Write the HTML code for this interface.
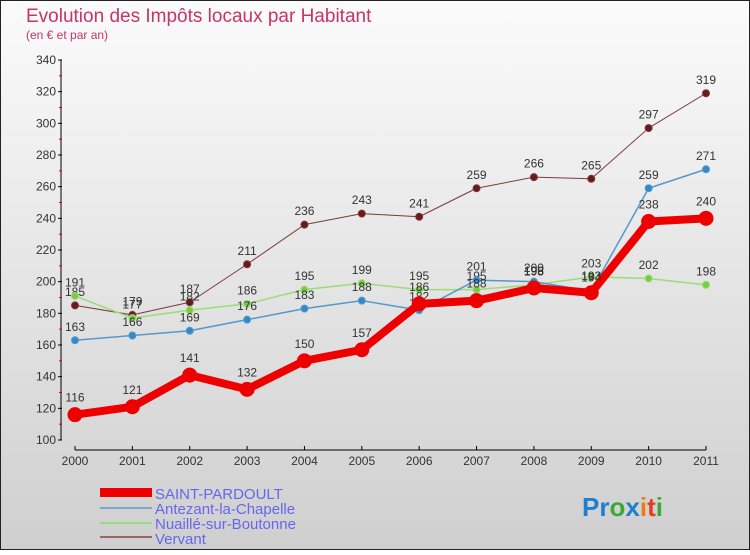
<!DOCTYPE html>
<html><head><meta charset="utf-8"><style>
html,body{margin:0;padding:0}
body{width:750px;height:550px;overflow:hidden;font-family:"Liberation Sans",sans-serif}
svg text{font-family:"Liberation Sans",sans-serif}
</style></head><body>
<svg id="c" width="750" height="550" xmlns="http://www.w3.org/2000/svg">
<defs><linearGradient id="bg" x1="0" y1="0" x2="0" y2="1"><stop offset="0" stop-color="#fbfbfb"/><stop offset="1" stop-color="#cfcfcf"/></linearGradient></defs>
<rect x="0.5" y="0.5" width="749" height="549" fill="url(#bg)" stroke="#222"/>
<text x="26" y="22" font-size="19" fill="#c8336a">Evolution des Impôts locaux par Habitant</text>
<text x="26" y="39" font-size="12" fill="#c8336a">(en € et par an)</text>
<g id="axes"></g><g id="series"></g>
<g>
<rect x="100" y="488" width="52" height="9" fill="#e00"/>
<text x="155" y="499" font-size="15" fill="#6666ee">SAINT-PARDOULT</text>
<line x1="100" y1="508" x2="152" y2="508" stroke="#7aa8d0" stroke-width="2"/>
<text x="155" y="514" font-size="15" fill="#6666ee">Antezant-la-Chapelle</text>
<line x1="100" y1="523" x2="152" y2="523" stroke="#99dd77" stroke-width="2"/>
<text x="155" y="529" font-size="15" fill="#6666ee">Nuaillé-sur-Boutonne</text>
<line x1="100" y1="537" x2="152" y2="537" stroke="#996666" stroke-width="2"/>
<text x="155" y="544" font-size="15" fill="#6666ee">Vervant</text>
</g>
<text x="582" y="516" font-size="26" font-weight="bold"><tspan fill="#1e7fd0">Pr</tspan><tspan fill="#3aa83a">o</tspan><tspan fill="#1e7fd0">x</tspan><tspan fill="#f07a10">i</tspan><tspan fill="#e04020">t</tspan><tspan fill="#3aa83a">i</tspan></text>
</svg>
<script>
const years=["2000","2001","2002","2003","2004","2005","2006","2007","2008","2009","2010","2011"];
const yTicks=[100,120,140,160,180,200,220,240,260,280,300,320,340];
const saint=[116,121,141,132,150,157,186,188,196,193,238,240];
const antezant=[163,166,169,176,183,188,182,201,200,194,259,271];
const nuaille=[191,177,182,186,195,199,195,195,198,203,202,198];
const vervant=[185,179,187,211,236,243,241,259,266,265,297,319];
const NS="http://www.w3.org/2000/svg";
const X0=75,X1=706,Y0=440,Y1=60,VMIN=100,VMAX=340;
function x(i){return X0+(X1-X0)*i/(years.length-1);}
function y(v){return Y0-(v-VMIN)*(Y0-Y1)/(VMAX-VMIN);}
function mk(t,a,p){const e=document.createElementNS(NS,t);for(const k in a)e.setAttribute(k,a[k]);p.appendChild(e);return e;}
const ax=document.getElementById('axes');
let e=mk('line',{x1:61,y1:60,x2:61,y2:440,stroke:'#000'},ax);


e=mk('line',{x1:75,y1:450,x2:706,y2:450,stroke:'#000'},ax);


yTicks.forEach(v=>{
 mk('line',{x1:58,y1:y(v),x2:62,y2:y(v),stroke:'#000'},ax);
 if(v<340)mk('line',{x1:59,y1:y(v+10),x2:62,y2:y(v+10),stroke:'#d00'},ax);
 const t=mk('text',{x:56,y:y(v)+4,'font-size':12,fill:'#333','text-anchor':'end'},ax);
 t.textContent=v;
 
 
});
years.forEach((yr,i)=>{
 mk('line',{x1:x(i),y1:446,x2:x(i),y2:450,stroke:'#000'},ax);
 const t=mk('text',{x:x(i),y:465,'font-size':12,fill:'#333','text-anchor':'middle'},ax);
 t.textContent=yr;
 
 
});
const sg=document.getElementById('series');
function draw(vals,color,dot,w,r,name){
 const g=mk('g',{},sg);
 
 
 const pl=mk('polyline',{points:vals.map((v,i)=>x(i)+','+y(v)).join(' '),fill:'none',stroke:color,'stroke-width':w,'stroke-linejoin':'round'},g);
 
 
 vals.forEach((v,i)=>{
  const c=mk('circle',{cx:x(i),cy:y(v),r:r,fill:dot,stroke:color,'stroke-width':1},g);
  
  
  const t=mk('text',{x:x(i),y:y(v)-(r+6),'font-size':12,fill:'#333','text-anchor':'middle'},g);
  t.textContent=v;
  
  
 });
}
draw(vervant,'#7a3a3a','#6a1a1a',1,3.5,'vervant');
draw(nuaille,'#99dd77','#77cc44',1.5,3.5,'nuaille');
draw(antezant,'#5599cc','#3388cc',1.5,3.5,'antezant');
draw(saint,'#ee0000','#ee0000',8,7,'saint-pardoult');
</script>
</body></html>
